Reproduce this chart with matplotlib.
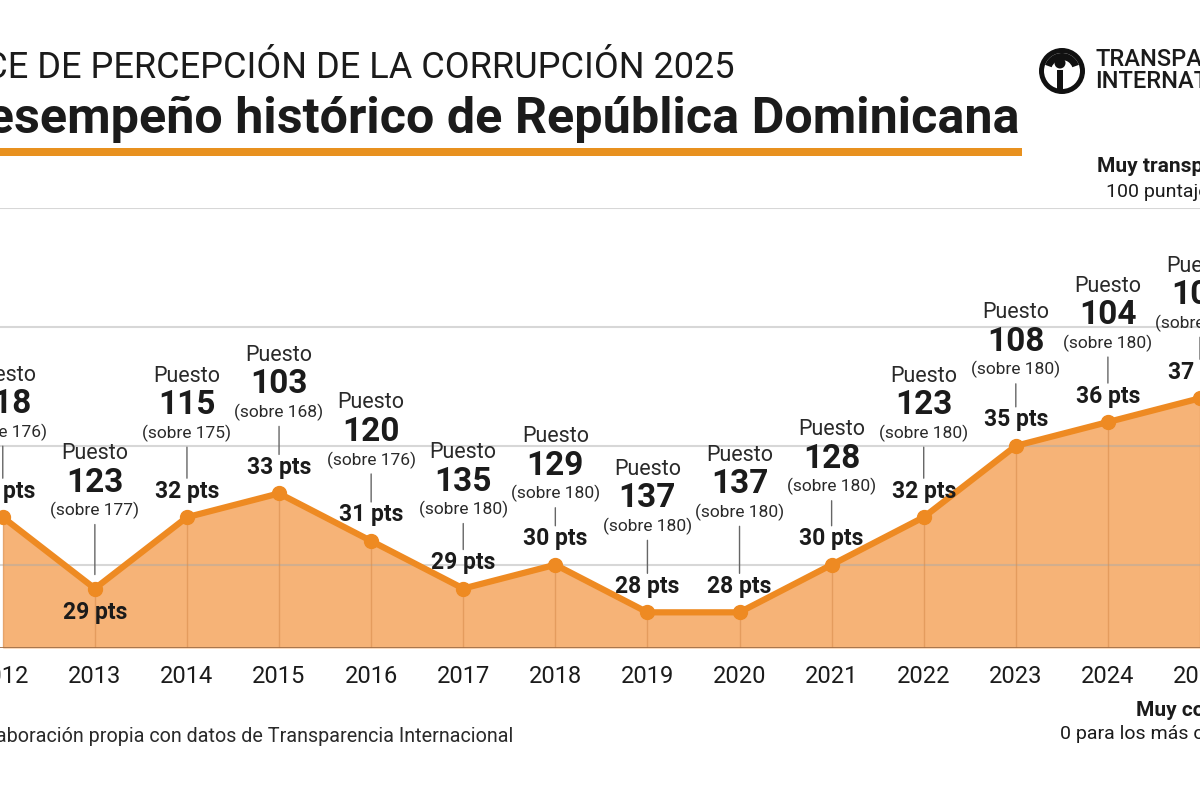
import matplotlib
matplotlib.use("Agg")
import matplotlib.pyplot as plt
from matplotlib.patches import Circle, Rectangle, Wedge

YEARS = list(range(2012, 2026))
SCORES = [32, 29, 32, 33, 31, 29, 30, 28, 28, 30, 32, 35, 36, 37]
RANKS = [118, 123, 115, 103, 120, 135, 129, 137, 137, 128, 123, 108, 104, 101]
TOTALS = [176, 177, 175, 168, 176, 180, 180, 180, 180, 180, 180, 180, 180, 182]

SUPTITLE = "ÍNDICE DE PERCEPCIÓN DE LA CORRUPCIÓN 2025"
TITLE = "Desempeño histórico de República Dominicana"
SOURCE = "Fuente: Elaboración propia con datos de Transparencia Internacional"

# layout: how high (px) the "(sobre N)" line sits above each point
SOBRE_LIFT = [85, 78, 84, 81, 81, 79, 71, 86, 100, 78, 84, 76, 79, 75]
PTS_BELOW = {2013}

FONT = "Roboto"
INK = "#1b1b1b"
ORANGE = "#EE8A22"
FILL = "#F6B377"
PT = 72 / 100  # px -> points at dpi 100

fig = plt.figure(figsize=(12, 8), dpi=100)
fig.patch.set_facecolor("white")

# decoration layer in pixel coordinates
deco = fig.add_axes([0, 0, 1, 1], zorder=0)
deco.set_xlim(0, 1200)
deco.set_ylim(800, 0)
deco.axis("off")

deco.text(735, 68, SUPTITLE, ha="right", va="center", fontsize=26,
          family=FONT, color=INK)
deco.text(1020, 119, TITLE, ha="right", va="center", fontsize=36.2,
          family=FONT, fontweight="bold", color=INK)
deco.add_patch(Rectangle((0, 148), 1022, 8, color="#E8911F", lw=0))

# logo
deco.add_patch(Circle((1062, 71), 23, facecolor="#111111", lw=0))
deco.add_patch(Circle((1062, 71), 18, facecolor="white", lw=0))
deco.add_patch(Wedge((1062, 71), 18, 200, 340, width=7, facecolor="#111111", lw=0))
deco.add_patch(Circle((1060, 63), 5.5, facecolor="#111111", lw=0))
deco.add_patch(Rectangle((1057, 70), 6, 22, facecolor="#111111", lw=0))
deco.text(1095, 59, "TRANSPARENCY", ha="left", va="center", fontsize=17,
          family=FONT, fontweight="medium", color=INK)
deco.text(1095, 81, "INTERNATIONAL", ha="left", va="center", fontsize=17,
          family=FONT, fontweight="medium", color=INK)

deco.text(1097, 166, "Muy transparente", ha="left", va="center", fontsize=15,
          family=FONT, fontweight="bold", color=INK)
deco.text(1106, 192, "100 puntaje", ha="left", va="center", fontsize=14,
          family=FONT, color=INK)
deco.text(1136, 710, "Muy corrupto", ha="left", va="center", fontsize=15,
          family=FONT, fontweight="bold", color=INK)
deco.text(1060, 734, "0 para los más corruptos", ha="left", va="center",
          fontsize=14, family=FONT, color=INK)
deco.text(513, 737, SOURCE, ha="right", va="center", fontsize=14.2,
          family=FONT, color="#2a2a2a")

# chart
ax = fig.add_axes([0, 0.19, 1, 0.55], zorder=1)
ax.set_facecolor("none")
ymin, ymax = 26.5, 45
ax.set_xlim(2011.97, 2024.67)
ax.set_ylim(ymin, ymax)

ax.fill_between(YEARS, SCORES, ymin, color=FILL, lw=0, zorder=1)
for y in [30, 35, 40, 45]:
    ax.axhline(y, color="#a8a8a8", alpha=0.45, lw=1.5, zorder=2)
ax.vlines(YEARS, ymin, SCORES, color="#D98E4E", alpha=0.6, lw=1, zorder=2)
ax.plot(YEARS, SCORES, color=ORANGE, lw=4.5, marker="o", markersize=10,
        solid_joinstyle="round", zorder=4)
ax.axhline(ymin, color="#A0704A", lw=2, zorder=5)

for year, score, rank, total, lift in zip(YEARS, SCORES, RANKS, TOTALS, SOBRE_LIFT):
    below = year in PTS_BELOW
    pts_off = -24 if below else 26
    ax.annotate(f"{score} pts", (year, score), xytext=(0, pts_off * PT),
                textcoords="offset points", ha="center", va="center",
                fontsize=16.5, family=FONT, fontweight="bold", color=INK,
                zorder=6)
    ax.annotate(f"(sobre {total})", (year, score), xytext=(0, lift * PT),
                textcoords="offset points", ha="center", va="center",
                fontsize=12.5, family=FONT, color="#2a2a2a", zorder=6)
    ax.annotate(str(rank), (year, score), xytext=(0, (lift + 28) * PT),
                textcoords="offset points", ha="center", va="center",
                fontsize=24, family=FONT, fontweight="bold", color=INK,
                zorder=6)
    ax.annotate("Puesto", (year, score), xytext=(0, (lift + 57) * PT),
                textcoords="offset points", ha="center", va="center",
                fontsize=15.5, family=FONT, color="#2a2a2a", zorder=6)
    bottom = 14 if below else 39
    ax.annotate("", (year, score), xytext=(0, (lift - 14) * PT),
                textcoords="offset points",
                arrowprops=dict(arrowstyle="-", color="#666666", lw=1,
                                shrinkA=0, shrinkB=bottom * PT),
                zorder=3)

ax.set_xticks(YEARS)
ax.set_xticklabels([str(y) for y in YEARS], fontsize=17, family=FONT,
                   color=INK)
ax.tick_params(axis="x", length=0, pad=12)
ax.set_yticks([])
for side in ax.spines.values():
    side.set_visible(False)

fig.savefig("out.png", dpi=100)
